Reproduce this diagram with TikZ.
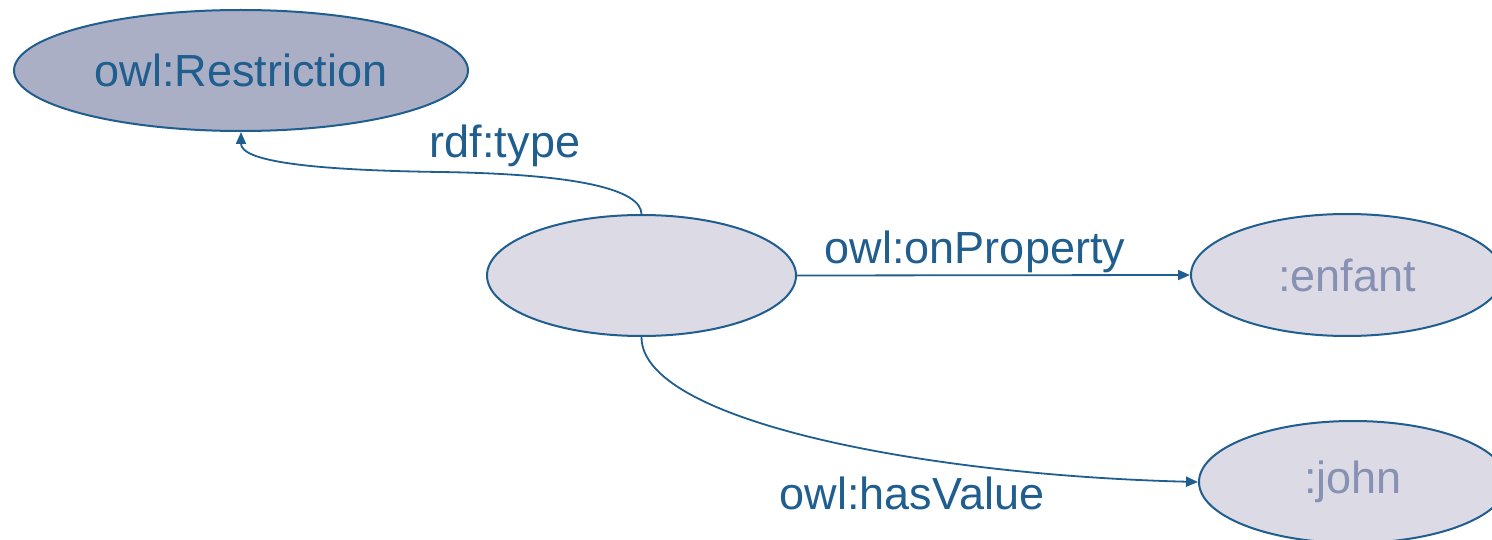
\documentclass[tikz,border=0pt]{standalone}
\usepackage{fontspec}
\setmainfont{Liberation Sans}
\usetikzlibrary{shapes.geometric,arrows.meta}
\definecolor{edgeblue}{HTML}{1F5E8E}
\definecolor{darkfill}{HTML}{AAAFC5}
\definecolor{lightfill}{HTML}{DCDAE5}
\definecolor{greytext}{HTML}{8791B3}
\tikzset{
  res/.style={ellipse, draw=edgeblue, line width=2pt, inner sep=0pt, font=\fontsize{45}{50}\selectfont},
  lbl/.style={text=edgeblue, inner sep=0pt, font=\fontsize{45}{50}\selectfont},
  link/.style={draw=edgeblue, line width=1.8pt, -{Triangle[length=12pt,width=10pt]}}
}
\begin{document}
\begin{tikzpicture}[x=1pt,y=-1pt]
\useasboundingbox (0,0) rectangle (1492,540);
\node[res, fill=darkfill, text=edgeblue, minimum width=454pt, minimum height=121pt] (r) at (241,70.5) {owl:Restriction};
\node[res, fill=lightfill, minimum width=309pt, minimum height=121pt] (b) at (641.5,275.5) {};
\node[res, fill=lightfill, text=greytext, minimum width=312pt, minimum height=122pt] (e) at (1347,275) {:enfant};
\node[res, fill=lightfill, text=greytext, minimum width=308pt, minimum height=122pt] (j) at (1353,482) {:john};
\draw[link] (b.north) .. controls (641,190) and (580,174) .. (440,172) .. controls (300,170) and (241,160) .. (r.south);
\draw[link] (b.east) -- (e.west);
\draw[link] (b.south) .. controls (641,420) and (920,475) .. (j.west);
\node[lbl] (l1) at (505,146) {rdf:type};
\node[lbl] (l2) at (975,252) {owl:onProperty};
\node[lbl] (l3) at (912,493) {owl:hasValue};
\end{tikzpicture}
\end{document}
